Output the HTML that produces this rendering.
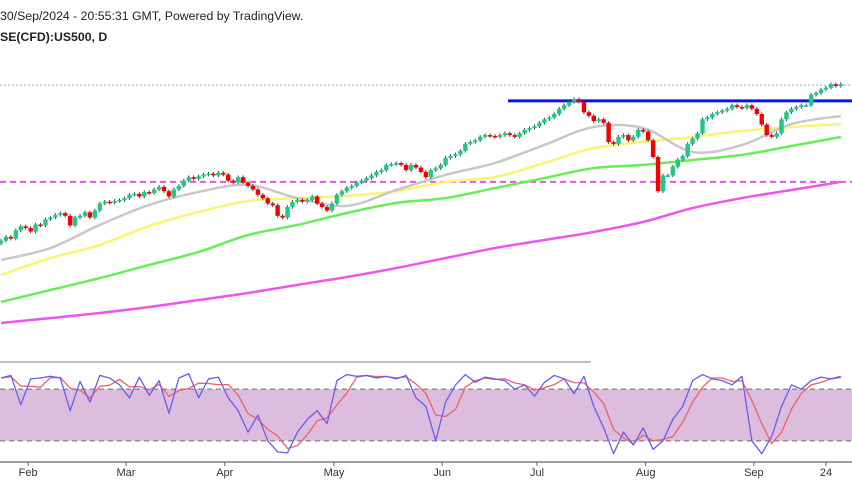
<!DOCTYPE html>
<html><head><meta charset="utf-8"><style>
body{margin:0;background:#fff;width:852px;height:485px;overflow:hidden;font-family:"Liberation Sans",sans-serif}
svg{position:absolute;left:0;top:0}
</style></head><body>
<svg id="c" width="852" height="485">
<text x="0" y="20" font-size="12.3" fill="#222">30/Sep/2024 - 20:55:31 GMT, Powered by TradingView.</text>
<text x="0" y="41" font-size="12.3" font-weight="bold" fill="#222">SE(CFD):US500, D</text>
</svg>
<script>
const closes=[4868,4890,4880,4927,4950,4940,
4920,4960,4955,4990,5000,5015,5025,5010,4955,5000,5010,5030,5000,5040,5080,5090,5085,5095,5100,
5110,5130,5135,5120,5145,5140,5160,5175,5150,5120,5160,5180,5210,5230,5220,5235,5245,5250,5240,5255,
5245,5210,5200,5230,5200,5180,5160,5130,5110,5080,5070,5010,5000,5060,5090,5100,5090,5100,5120,5080,5060,
5040,5080,5130,5150,5170,5180,5200,5210,5225,5240,5260,5270,5300,5305,5310,5300,5270,5300,5285,5260,5230,5270,
5280,5300,5340,5350,5360,5380,5420,5430,5440,5460,5470,5465,5460,5470,5480,5470,5460,5480,5500,5510,
5520,5540,5560,5570,5590,5620,5640,5660,5675,5660,5600,5580,5550,5560,5540,5430,5420,5460,5470,5440,5460,5500,
5490,5440,5345,5150,5240,5240,5290,5330,5350,5420,5450,5480,5560,5570,5590,5600,5610,5620,5640,5630,5625,
5640,5620,5590,5530,5470,5460,5480,5560,5600,5620,5630,5640,5640,5700,5710,5730,5740,5760,5750,5760];
const ma20=[4758,4826,4958,5072,5146,5186,5111,5066,5157,5243,5311,5414,5516,5510,5374,5414,5533,5579];
const ma50=[4673,4769,4844,4952,5032,5094,5111,5123,5151,5203,5231,5311,5396,5431,5459,5493,5516,5533];
const ma100=[4519,4587,4655,4730,4804,4900,4958,5026,5083,5111,5168,5225,5282,5300,5328,5357,5408,5459];
const ma200=[4399,4427,4456,4490,4530,4570,4616,4661,4712,4769,4826,4872,4918,4975,5054,5111,5157,5203];
const stochK=[93,96,62,92,93,95,93,55,89,65,96,93,85,70,94,73,90,52,93,98,70,92,94,70,55,30,50,20,7,6,30,45,55,40,90,97,95,96,93,95,92,96,70,60,20,65,85,97,88,94,92,90,80,85,72,88,96,92,75,95,60,35,5,30,15,35,10,20,45,60,90,97,92,90,85,95,20,5,25,60,85,80,90,94,92,95];
const monthLabels=["Feb","Mar","Apr","May","Jun","Jul","Aug","Sep","24"];
const monthIdx=[5.5,25.3,45.3,67.4,89.3,108.5,130.5,152.4,167];
const resistance=5665, support=5203, lastPrice=5755;

const svg=document.getElementById('c');const NS='http://www.w3.org/2000/svg';
const step=4.94;
const xs=i=>1+i*step;
const ys=p=>(6240-p)/5.7;
const yk=k=>458-k*0.86;
function mk(t,a,parent){const e=document.createElementNS(NS,t);for(const k in a)e.setAttribute(k,a[k]);(parent||svg).appendChild(e);return e;}
function smooth(pts){let d='M'+pts[0][0]+','+pts[0][1];
for(let i=0;i<pts.length-1;i++){const p0=pts[Math.max(0,i-1)],p1=pts[i],p2=pts[i+1],p3=pts[Math.min(pts.length-1,i+2)];
d+=' C'+(p1[0]+(p2[0]-p0[0])/6)+','+(p1[1]+(p2[1]-p0[1])/6)+' '+(p2[0]-(p3[0]-p1[0])/6)+','+(p2[1]-(p3[1]-p1[1])/6)+' '+p2[0]+','+p2[1];}
return d;}

const band=mk('rect',{x:0,y:yk(80),width:852,height:yk(20)-yk(80),fill:'#dcbddd'});


[80,20].forEach(v=>{const l=mk('line',{x1:0,x2:852,y1:yk(v),y2:yk(v),stroke:'#888',"stroke-width":1.3,"stroke-dasharray":"5,4"});

});
const sepLine=mk('line',{x1:0,x2:591,y1:362,y2:362,stroke:'#999',"stroke-width":1.2});


const axLine=mk('line',{x1:0,x2:852,y1:462,y2:462,stroke:'#666',"stroke-width":1.2});


monthLabels.forEach((m,j)=>{const x=xs(monthIdx[j]);
const t=mk('line',{x1:x,x2:x,y1:462,y2:466,stroke:'#666'});


const tx=mk('text',{x:x,y:476,"font-size":11,"text-anchor":"middle",fill:'#333'});tx.textContent=m;

});

const lastLine=mk('line',{x1:0,x2:852,y1:ys(lastPrice),y2:ys(lastPrice),stroke:'#8fa6e0',"stroke-width":1,"stroke-dasharray":"2,2"});


const supLine=mk('line',{x1:0,x2:852,y1:ys(support),y2:ys(support),stroke:'#e455e8',"stroke-width":2,"stroke-dasharray":"6,4"});



function maLine(arr,color,name){const pts=arr.map((v,j)=>[xs(j*10),ys(v)]);
const p=mk('path',{d:smooth(pts),fill:'none',stroke:color,"stroke-width":2.5,"stroke-linejoin":"round"});

}
maLine(ma200,'#ee55ee','ma-200');
maLine(ma100,'#66ee55','ma-100');
maLine(ma50,'#f8f570','ma-50');
maLine(ma20,'#c8c8c8','ma-20');

const resLine=mk('line',{x1:508,x2:852,y1:ys(resistance),y2:ys(resistance),stroke:'#0a14e0',"stroke-width":3});



closes.forEach((c,i)=>{const o=i?closes[i-1]:c-15;const up=c>=o;
const hi=Math.max(o,c)+10,lo=Math.min(o,c)-10;const x=xs(i);
const g=mk('g',{});


mk('line',{x1:x,x2:x,y1:ys(hi),y2:ys(lo),stroke:'#444',"stroke-width":1},g);
const y1=ys(Math.max(o,c)),h=Math.max(1.5,ys(Math.min(o,c))-y1);
mk('rect',{x:x-2.2,y:y1,width:4.4,height:h,fill:up?'#1dc985':'#f40000'},g);});

const stochD=stochK.map((v,i)=>{const a=stochK.slice(Math.max(0,i-2),i+1);return a.reduce((s,q)=>s+q,0)/a.length;});
function sLine(arr,color,name){const pts=arr.map((v,j)=>xs(j*2)+','+yk(v)).join(' ');
const p=mk('polyline',{points:pts,fill:'none',stroke:color,"stroke-width":1.3,"stroke-linejoin":"round"});

}
sLine(stochD,'#f0606a','stoch-d');
sLine(stochK,'#6a5cf0','stoch-k');
</script>
</body></html>
